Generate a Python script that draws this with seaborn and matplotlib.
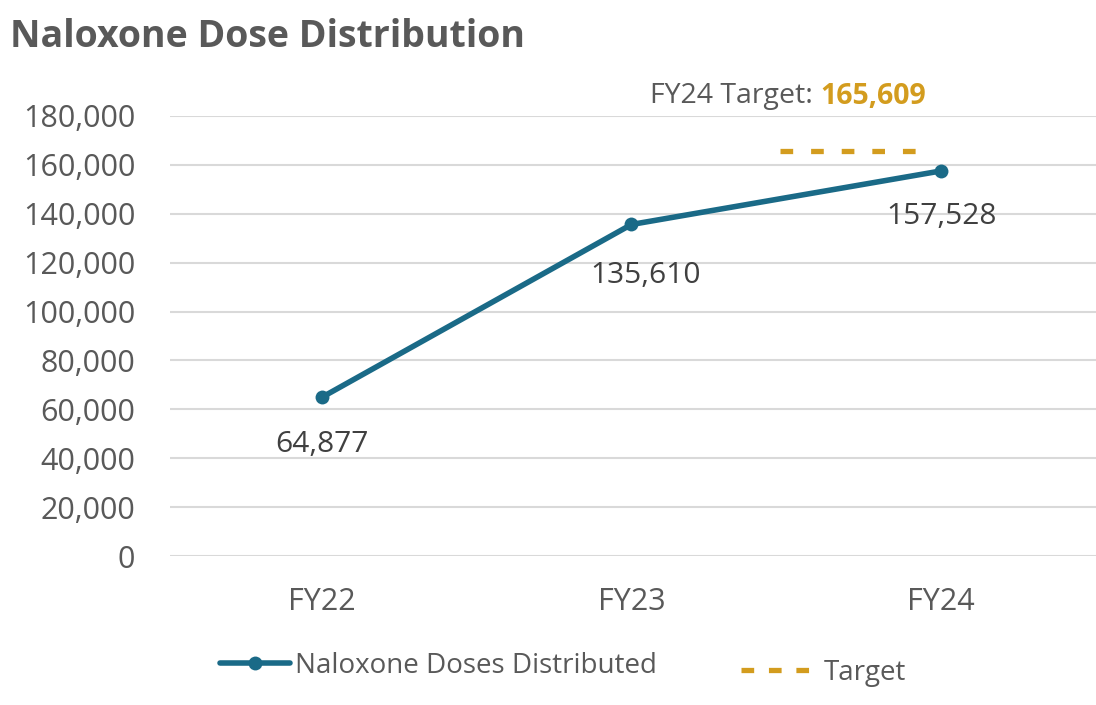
import seaborn as sns
import matplotlib.pyplot as plt
import pandas as pd
from matplotlib.ticker import FuncFormatter
from matplotlib.lines import Line2D

# data
years = ["FY22", "FY23", "FY24"]
doses = [64877, 135610, 157528]
target_value = 165609
target_span = [1.48, 1.94]   # drawn over the FY24 side, like the original

line_color = "#1A6A87"
gold = "#D39C1E"
gray = "#595959"

sns.set_style("white")
plt.rcParams["font.family"] = ["Open Sans", "DejaVu Sans"]

fig = plt.figure(figsize=(10.96, 7.05), dpi=100)
ax = fig.add_axes([0.155, 0.2113, 0.845, 0.6242])

df = pd.DataFrame({"year": years, "doses": doses})
sns.lineplot(data=df, x="year", y="doses", ax=ax, color=line_color, linewidth=4,
             marker="o", markersize=10, markeredgewidth=0, legend=False)
ax.plot(target_span, [target_value] * 2, color=gold, linewidth=3.8, dashes=(2.4, 3.4))

# point labels
offsets = [(0, -47), (14, -51), (0, -46)]
for i, (v, off) in enumerate(zip(doses, offsets)):
    ax.annotate(f"{v:,}", (i, v), xytext=off, textcoords="offset pixels",
                ha="center", va="center", fontsize=21.5, color="#404040")

# target annotation
t1 = ax.annotate("FY24 Target: ", (0.5, 0), xycoords=ax.transAxes, xytext=(650, 609),
                 textcoords="figure pixels", ha="left", va="center",
                 fontsize=20.5, color=gray, annotation_clip=False)
ax.annotate(f"{target_value:,}", xy=(1, 0.5), xycoords=t1, xytext=(0, 0),
            textcoords="offset pixels", ha="left", va="center",
            fontsize=20.5, color=gold, fontweight="bold")

ax.set_xlim(-0.49, 2.5)
ax.set_ylim(0, 180000)
ax.set_yticks(range(0, 180001, 20000))
ax.yaxis.set_major_formatter(FuncFormatter(lambda v, p: f"{int(v):,}"))
ax.grid(axis="y", color="#D9D9D9", linewidth=1.5)
ax.set_axisbelow(True)
for s in ax.spines.values():
    s.set_visible(False)
ax.tick_params(axis="y", length=0, pad=25, labelsize=22, labelcolor=gray)
ax.tick_params(axis="x", length=0, pad=22, labelsize=22, labelcolor=gray)
ax.set_xlabel("")
ax.set_ylabel("")

fig.text(0.009, 0.948, "Naloxone Dose Distribution", fontsize=27, fontweight="bold",
         color=gray, ha="left", va="center")

h1 = Line2D([], [], color=line_color, linewidth=4, marker="o", markersize=10, markeredgewidth=0)
h2 = Line2D([], [], color=gold, linewidth=3.8, dashes=(2.4, 2.8))
fig.legend([h1], ["Naloxone Doses Distributed"], loc="center left",
           bbox_to_anchor=(0.178, 0.056), frameon=False, fontsize=20,
           labelcolor=gray, handlelength=2.5, handletextpad=0.2)
fig.legend([h2], ["Target"], loc="center left",
           bbox_to_anchor=(0.653, 0.046), frameon=False, fontsize=20,
           labelcolor=gray, handlelength=2.5, handletextpad=0.5)

fig.savefig("out.png", dpi=100)
